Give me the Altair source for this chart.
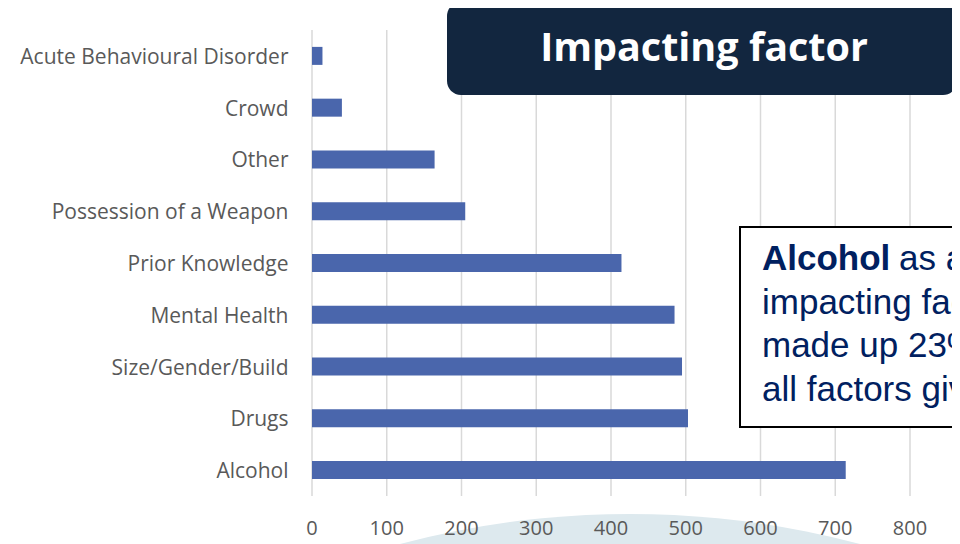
import altair as alt
import pandas as pd

# ---- data ----
categories = [
    "Acute Behavioural Disorder",
    "Crowd",
    "Other",
    "Possession of a Weapon",
    "Prior Knowledge",
    "Mental Health",
    "Size/Gender/Build",
    "Drugs",
    "Alcohol",
]
counts = [14, 40, 164, 205, 414, 485, 495, 503, 714]
x_ticks = [0, 100, 200, 300, 400, 500, 600, 700, 800]

title_text = ["Impacting factor"]
note_bold = ["Alcohol"]
note_first_rest = ["as an"]
note_lines = ["impacting factor", "made up 23% of", "all factors given"]

df = pd.DataFrame({"factor": categories, "count": counts})
ticks_df = pd.DataFrame({"tick": x_ticks})

W, H = 598, 466
FONT = "Open Sans"
LABEL_COLOR = "#595959"
NAVY = "#12263f"
NOTE_COLOR = "#002060"

xscale = alt.Scale(domain=[0, 800], nice=False, zero=True)
yscale = alt.Scale(paddingInner=0, paddingOuter=0)

grid = alt.Chart(ticks_df).mark_rule(color="#d9d9d9", strokeWidth=1.5).encode(
    x=alt.X("tick:Q", scale=xscale, axis=None)
)

bars = alt.Chart(df).mark_bar(size=18, color="#4a66ac").encode(
    x=alt.X("count:Q", scale=xscale, axis=None),
    y=alt.Y(
        "factor:N",
        sort=categories,
        scale=yscale,
        axis=alt.Axis(
            domain=False,
            ticks=False,
            tickSize=0,
            labelPadding=24,
            labelFont=FONT,
            labelFontSize=21,
            labelColor=LABEL_COLOR,
            labelLimit=400,
            labelOffset=2,
            title=None,
        ),
    ),
)

one = pd.DataFrame({"k": [0]})

circle = alt.Chart(one).mark_arc(
    color="#dde9ee", outerRadius=897, innerRadius=0, theta=0, theta2=6.2832
).encode(x=alt.value(318), y=alt.value(1381))

tick_labels = alt.Chart(ticks_df).mark_text(
    font=FONT, fontSize=20, color=LABEL_COLOR, align="center", baseline="alphabetic"
).encode(
    x=alt.X("tick:Q", scale=xscale, axis=None),
    y=alt.value(H + 38.5),
    text=alt.Text("tick:Q", format="d"),
)

title_box = alt.Chart(one).mark_rect(color=NAVY, cornerRadius=14).encode(
    x=alt.value(135), x2=alt.value(645), y=alt.value(-28), y2=alt.value(65)
)

title_txt = alt.Chart(pd.DataFrame({"t": title_text})).mark_text(
    font=FONT, fontWeight="bold", fontSize=39.5, color="white",
    align="center", baseline="alphabetic",
).encode(x=alt.value(392), y=alt.value(31), text="t:N")

note_box = alt.Chart(one).mark_rect(fill="white", stroke="black", strokeWidth=2).encode(
    x=alt.value(428), x2=alt.value(760), y=alt.value(197), y2=alt.value(397)
)

note_b = alt.Chart(pd.DataFrame({"t": note_bold})).mark_text(
    font="Liberation Sans", fontWeight="bold", fontSize=35, color=NOTE_COLOR,
    align="left", baseline="alphabetic",
).encode(x=alt.value(450), y=alt.value(240), text="t:N")

note_r = alt.Chart(pd.DataFrame({"t": note_first_rest})).mark_text(
    font="Liberation Sans", fontSize=35, color=NOTE_COLOR,
    align="left", baseline="alphabetic",
).encode(x=alt.value(587), y=alt.value(240), text="t:N")

line_layers = []
for i, line in enumerate(note_lines):
    line_layers.append(
        alt.Chart(pd.DataFrame({"t": [line]})).mark_text(
            font="Liberation Sans", fontSize=35, color=NOTE_COLOR,
            align="left", baseline="alphabetic",
        ).encode(x=alt.value(450), y=alt.value(283.5 + i * 43.5), text="t:N")
    )

chart = alt.layer(
    grid, bars, circle, tick_labels, title_box, title_txt, note_box, note_b, note_r, *line_layers
).properties(
    width=W,
    height=H,
    padding={"left": 304, "top": 22, "right": 42, "bottom": 48},
    autosize=alt.AutoSizeParams(type="none"),
    background="white",
).configure_view(stroke=None)

chart.save("out.html", embed_options={"renderer": "svg", "actions": False})
